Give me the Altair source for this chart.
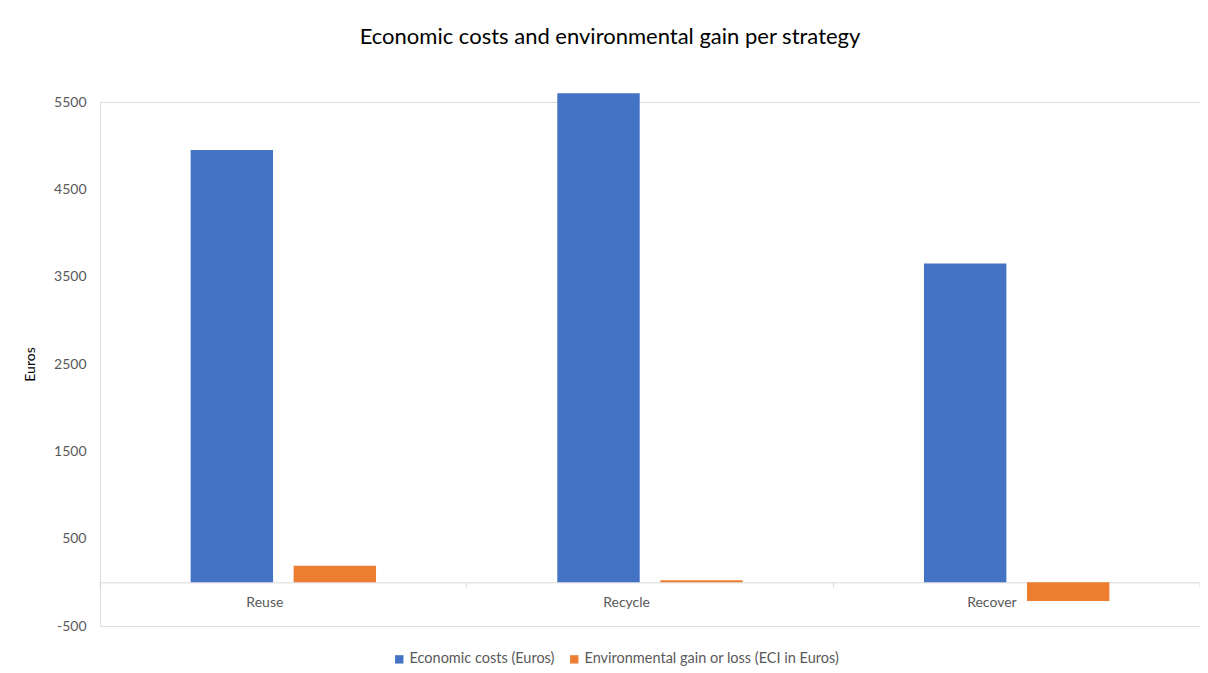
import altair as alt
import pandas as pd

strategies = ["Reuse", "Recycle", "Recover"]
series_names = ["Economic costs (Euros)", "Environmental gain or loss (ECI in Euros)"]
economic_costs = [4950, 5600, 3650]
environmental_gain = [190, 25, -215]
y_ticks = [-500, 500, 1500, 2500, 3500, 4500, 5500]
colors = ["#4472C4", "#ED7D31"]

rows = []
for i, s in enumerate(strategies):
    rows.append({"Strategy": s, "Series": series_names[0], "Value": economic_costs[i]})
    rows.append({"Strategy": s, "Series": series_names[1], "Value": environmental_gain[i]})
df = pd.DataFrame(rows)

FONT = "Lato"
W, H = 1100, 524
dom = [-500, 5500]
zero_offset = -(0 - dom[0]) / (dom[1] - dom[0]) * H

x_enc = alt.X(
    "Strategy:N",
    sort=strategies,
    title=None,
    scale=alt.Scale(paddingInner=0, paddingOuter=0),
    axis=alt.Axis(
        offset=zero_offset,
        domainColor="#d9d9d9",
        ticks=False,
        labelAngle=0,
        labelColor="#595959",
        labelFontSize=14,
        labelFont=FONT,
        labelPadding=20,
        grid=False,
    ),
)

bars = alt.Chart(df).mark_bar().encode(
    x=x_enc,
    xOffset=alt.XOffset("Series:N", sort=series_names,
                        scale=alt.Scale(paddingInner=0.2, paddingOuter=0.88)),
    y=alt.Y(
        "Value:Q",
        title="Euros",
        scale=alt.Scale(domain=dom, nice=False, zero=False),
        axis=alt.Axis(
            values=y_ticks,
            labelExpr="'' + datum.value",
            domain=False,
            ticks=False,
            gridColor="#d9d9d9",
            labelColor="#595959",
            labelFontSize=14,
            labelFont=FONT,
            labelPadding=14,
            titleFont=FONT,
            titleFontSize=14,
            titleFontWeight="normal",
            titleColor="#000000",
            titlePadding=16,
        ),
    ),
    color=alt.Color(
        "Series:N",
        sort=series_names,
        scale=alt.Scale(domain=series_names, range=colors),
        legend=alt.Legend(
            title=None,
            orient="none",
            direction="horizontal",
            legendX=292,
            legendY=550,
            symbolType="square",
            symbolSize=70,
            symbolStrokeWidth=0,
            labelFont=FONT,
            labelFontSize=14.5,
            labelColor="#595959",
            labelLimit=0,
            columnPadding=12,
            labelOffset=3,
        ),
    ),
)

tick_df = pd.DataFrame({"Strategy": strategies})
cat_ticks = alt.Chart(tick_df).mark_rule(color="#d9d9d9", strokeWidth=1).encode(
    x=alt.X("Strategy:N", sort=strategies, bandPosition=0),
    y=alt.datum(0),
    y2=alt.datum(-60),
)
end_tick = alt.Chart(pd.DataFrame({"Strategy": [strategies[-1]]})).mark_rule(
    color="#d9d9d9", strokeWidth=1
).encode(
    x=alt.X("Strategy:N", sort=strategies, bandPosition=1),
    y=alt.datum(0),
    y2=alt.datum(-60),
)

chart = alt.layer(cat_ticks, end_tick, bars).properties(
    width=W,
    height=H,
    autosize=alt.AutoSizeParams(type="none"),
    padding={"left": 92, "top": 94, "right": 0, "bottom": 40},
    title=alt.TitleParams(
        "Economic costs and environmental gain per strategy",
        font=FONT,
        fontSize=22,
        fontWeight="normal",
        color="#000000",
        offset=44,
        dx=-40,
    ),
).configure_view(stroke=None).configure(background="white")

chart.save("out.html", embed_options={"renderer": "svg", "actions": False})
